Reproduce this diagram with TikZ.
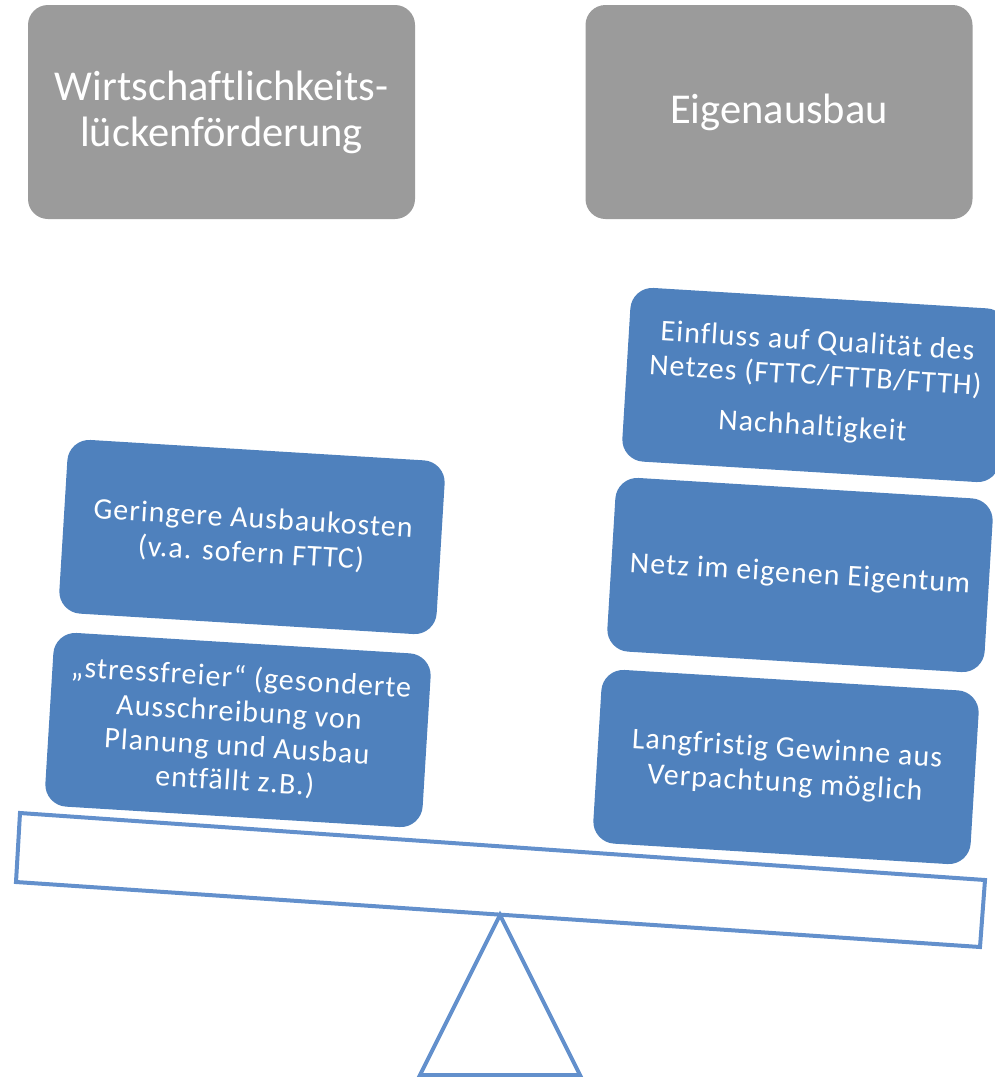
\documentclass[tikz,border=0pt]{standalone}
\usepackage{fontspec}
\setmainfont{Carlito}[Ligatures=NoCommon]
\newfontfamily\bluefont{Carlito}[LetterSpace=3.5,Ligatures=NoCommon]
\definecolor{gboxc}{HTML}{9B9B9B}
\definecolor{bboxc}{HTML}{4F81BD}
\definecolor{blinec}{HTML}{6390CC}
\begin{document}
\begin{tikzpicture}[x=1pt,y=-1pt,
  graybox/.style={fill=gboxc, rounded corners=20pt, minimum width=387pt, minimum height=214pt,
    text=white, align=center, font=\fontsize{42.5}{46}\selectfont, inner sep=0pt},
  bluebox/.style={fill=bboxc, rounded corners=22pt, minimum width=378pt, minimum height=174pt,
    text=white, align=center, rotate=-3.5, font={\bluefont\fontsize{30}{34.5}\selectfont}, inner sep=0pt},
  beam/.style={draw=blinec, line width=4pt, fill=white, line join=miter}]
\useasboundingbox (0,0) rectangle (995,1077);
% top boxes
\node[graybox] (wlf) at (221.5,112) {Wirtschaftlichkeits-\\lückenförderung};
\node[graybox] (eig) at (779,112) {Eigenausbau};
% balance
\draw[beam] (20,813) -- (985,880) -- (980,947) -- (16,882) -- cycle;
\draw[beam] (500,915) -- (580,1075) -- (420,1075) -- cycle;
% left weights
\node[bluebox] (l1) at (252,537) {Geringere Ausbaukosten\\(v.a. sofern FTTC)};
\node[bluebox] (l2) at (238,730) {„stressfreier“ (gesonderte\\Ausschreibung von\\Planung und Ausbau\\entfällt z.B.)};
% right weights
\node[bluebox] (r1) at (815,385) {Einfluss auf Qualität des\\Netzes (FTTC/FTTB/FTTH)\\[16pt]Nachhaltigkeit};
\node[bluebox] (r2) at (800,575) {Netz im eigenen Eigentum};
\node[bluebox] (r3) at (786,767) {Langfristig Gewinne aus\\Verpachtung möglich};
\end{tikzpicture}
\end{document}
